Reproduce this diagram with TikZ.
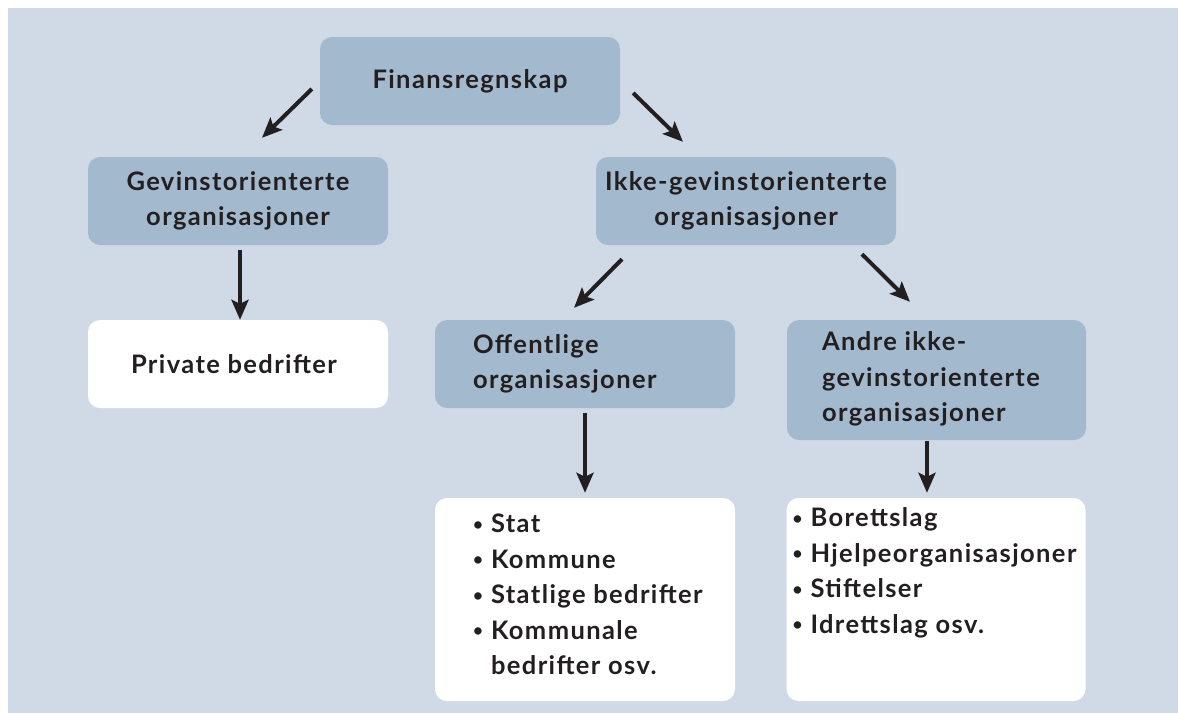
\documentclass[tikz,border=0pt]{standalone}
\usepackage{fontspec}
\setmainfont{Lato}[LetterSpace=5.5]
\usetikzlibrary{arrows.meta}

\definecolor{bgcol}{HTML}{D0DAE6}
\definecolor{boxcol}{HTML}{A3B9CE}
\definecolor{ink}{HTML}{231F20}

% small list bullet followed by a fixed indent
\newcommand{\bul}{\makebox[18pt][l]{\raisebox{2.5pt}{\fontsize{17}{17}\selectfont\textbullet}}}

\begin{document}
\begin{tikzpicture}[x=1pt,y=-1pt,
  txt/.style={font=\fontsize{25.5}{35.5}\selectfont\bfseries, text=ink, inner sep=0pt},
  bluebox/.style={fill=boxcol, rounded corners=12pt, minimum width=300pt, minimum height=88pt, inner sep=0pt, txt, align=center},
  whitebox/.style={bluebox, fill=white},
  arr/.style={draw=ink, line width=4pt, -{Stealth[length=20pt,width=17pt,inset=4pt]}}
]
\useasboundingbox (0,0) rectangle (1178,713);
\fill[bgcol] (8,8) rectangle (1178,713);

% top level
\node[bluebox] (fin) at (470,81) {Finansregnskap};

% second level
\node[bluebox] (gev) at (238,201) {Gevinstorienterte\\organisasjoner};
\node[bluebox] (ikke) at (746,201) {Ikke-gevinstorienterte\\organisasjoner};

% third level
\node[whitebox] (priv) at (238,364) {\hspace*{-8pt}Private bedrifter};
\node[bluebox] (off) at (585,364) {};
\node[txt, anchor=west, align=left] (offtxt) at ([xshift=38pt]off.west) {Offentlige\\organisasjoner};
\node[bluebox, minimum width=299pt, minimum height=120pt] (andre) at (936.5,380) {};
\node[txt, anchor=west, align=left] (andretxt) at ([xshift=35pt,yshift=1pt]andre.west) {Andre ikke-\\gevinstorienterte\\organisasjoner};

% lists
\node[whitebox, minimum height=203pt] (listL) at (585,599.5) {};
\node[txt, anchor=north west, align=left] (listLtxt) at ([xshift=38pt,yshift=-16pt]listL.north west)
  {\bul Stat\\\bul Kommune\\\bul Statlige bedrifter\\\bul Kommunale\\\hspace*{18pt}bedrifter osv.};
\node[whitebox, minimum width=299pt, minimum height=203pt] (listR) at (936,599.5) {};
\node[txt, anchor=north west, align=left] (listRtxt) at ([xshift=6pt,yshift=-10pt]listR.north west)
  {\bul Borettslag\\\bul Hjelpeorganisasjoner\\\bul Stiftelser\\\bul Idrettslag osv.};

% connectors
\draw[arr] ([xshift=-8pt,yshift=-8pt]fin.west) -- ([xshift=24pt,yshift=19pt]gev.north);
\draw[arr] ([xshift=13pt,yshift=-12pt]fin.east) -- ([xshift=-63pt,yshift=15pt]ikke.north);
\draw[arr] ([xshift=2pt,yshift=-5pt]gev.south) -- ([xshift=2pt]priv.north);
\draw[arr] ([xshift=-124pt,yshift=-14pt]ikke.south) -- ([xshift=-11pt,yshift=12pt]off.north);
\draw[arr] ([xshift=116pt,yshift=-9pt]ikke.south) -- ([xshift=-26.5pt,yshift=18pt]andre.north);
\draw[arr] ([yshift=-5pt]off.south) -- ([yshift=5pt]listL.north);
\draw[arr] ([xshift=-9.5pt,yshift=-1pt]andre.south) -- ([xshift=-9pt,yshift=5pt]listR.north);
\end{tikzpicture}
\end{document}
